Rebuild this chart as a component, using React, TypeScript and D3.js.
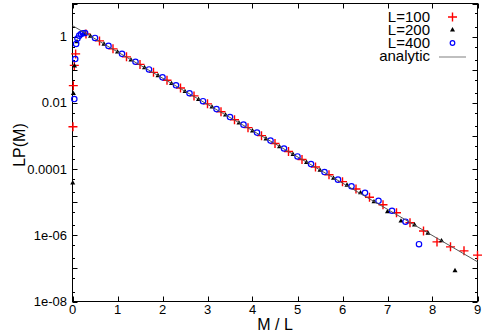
import React from "react";
import * as d3 from "d3";

// L=100 (red +)
const l100X = [0.01, 0.018, 0.04, 0.07, 0.3, 0.6, 0.9, 1.2, 1.5, 1.8, 2.1, 2.4, 2.7, 3.0, 3.3, 3.6, 3.9, 4.2, 4.5, 4.8, 5.1, 5.4, 5.7, 6.0, 6.3, 6.6, 6.9, 7.2, 7.5, 7.8, 8.1, 8.4, 8.7, 9.0];
const l100Y = [0.0019, 0.033, 0.135, 0.3, 1.2, 0.741, 0.427, 0.245, 0.145, 0.0832, 0.0479, 0.0282, 0.0162, 0.00933, 0.00537, 0.00309, 0.00178, 0.00102, 5.89e-4, 3.39e-4, 1.95e-4, 1.15e-4, 6.76e-5, 4.17e-5, 2.51e-5, 1.41e-5, 8.32e-6, 4.79e-6, 2.4e-6, 1.35e-6, 6.3e-7, 4.47e-7, 3.39e-7, 2.51e-7];

// L=200 (black triangles)
const l200X = [0.005, 0.02, 0.045, 0.1, 0.25, 0.4, 0.7, 1.0, 1.3, 1.6, 1.9, 2.2, 2.5, 2.8, 3.1, 3.4, 3.7, 4.0, 4.3, 4.6, 4.9, 5.2, 5.5, 5.8, 6.1, 6.4, 6.7, 7.0, 7.3, 7.6, 7.9, 8.2, 8.5];
const l200Y = [3.8e-5, 0.019, 0.13, 0.7, 1.15, 1.02, 0.589, 0.339, 0.195, 0.115, 0.0661, 0.038, 0.0219, 0.0126, 0.00741, 0.00427, 0.00245, 0.00141, 8.13e-4, 4.68e-4, 2.75e-4, 1.58e-4, 9.12e-5, 5.25e-5, 3.24e-5, 1.91e-5, 1.02e-5, 5.13e-6, 2.69e-6, 2.04e-6, 1.15e-6, 6.76e-7, 8.5e-8];

// L=400 (blue circles)
const l400X = [0.04, 0.06, 0.08, 0.11, 0.15, 0.19, 0.23, 0.28, 0.5, 0.8, 1.1, 1.4, 1.7, 2.0, 2.3, 2.6, 2.9, 3.2, 3.5, 3.8, 4.1, 4.4, 4.7, 5.0, 5.3, 5.6, 5.9, 6.2, 6.5, 6.8, 7.1, 7.4, 7.7];
const l400Y = [0.013, 0.21, 0.6, 0.87, 1.07, 1.2, 1.26, 1.28, 0.912, 0.525, 0.302, 0.174, 0.102, 0.0589, 0.0339, 0.0195, 0.0112, 0.00646, 0.00372, 0.00219, 0.00126, 7.24e-4, 4.17e-4, 2.4e-4, 1.41e-4, 8.13e-5, 4.79e-5, 3.02e-5, 1.91e-5, 1.1e-5, 5.5e-6, 2.57e-6, 5.37e-7];

// analytic line
const analyticX = [0, 9];
const analyticY = [2.14, 1.58e-7];

const xTicks = [0, 1, 2, 3, 4, 5, 6, 7, 8, 9];
const yLabelTicks = [1, 0.01, 0.0001, 1e-6, 1e-8];
const yLabelText = ["1", "0.01", "0.0001", "1e-06", "1e-08"];
const legendNames = ["L=100", "L=200", "L=400", "analytic"];

const W = 498;
const H = 335;
const left = 72.5;
const right = 477.5;
const top = 3.5;
const bottom = 301.5;

const App = () => {
  const x = d3.scaleLinear().domain([0, 9]).range([left, right]);
  const y = d3.scaleLog().domain([1e-8, 10]).range([bottom, top]);

  // minor ticks at 1, 2, 5 of each decade
  const yTicks: { v: number; major: boolean }[] = [];
  for (let k = -8; k <= 1; k++) {
    [1, 2, 5].forEach(m => {
      const v = m * Math.pow(10, k);
      if (v <= 10) yTicks.push({ v, major: m === 1 });
    });
  }

  const pts = (xs: number[], ys: number[]) => xs.map((d, i) => [x(d), y(ys[i])]);
  const tri = d3.symbol(d3.symbolTriangle, 11)()!;
  const line = d3.line<number>().x((d, i) => x(analyticX[i])).y(d => y(d));

  const font = "'Liberation Sans', Arial, sans-serif";

  const cross = (cx: number, cy: number, key: any) => (
    <path key={key} d={`M${cx - 4.5},${cy}H${cx + 4.5}M${cx},${cy - 4.5}V${cy + 4.5}`}
      stroke="#ff0000" strokeWidth={1.4} fill="none" />
  );

  const legY = [17, 30, 43, 56];

  return (
    <div style={{ position: "absolute", left: 0, top: 0 }}>
      <svg width={W} height={H} style={{ display: "block", fontFamily: font }}>
        <rect width={W} height={H} fill="white" />
        {/* ticks */}
        <g stroke="#000" strokeWidth={1}>
          {xTicks.map(t => (
            <g key={t}>
              <line x1={Math.round(x(t)) + 0.5} x2={Math.round(x(t)) + 0.5} y1={bottom} y2={bottom - 5} />
              <line x1={Math.round(x(t)) + 0.5} x2={Math.round(x(t)) + 0.5} y1={top} y2={top + 5} />
            </g>
          ))}
          {yTicks.map((t, i) => {
            const yy = Math.round(y(t.v)) + 0.5;
            const len = t.major ? 5 : 2.5;
            return (
              <g key={i}>
                <line x1={left} x2={left + len} y1={yy} y2={yy} />
                <line x1={right} x2={right - len} y1={yy} y2={yy} />
              </g>
            );
          })}
        </g>
        <rect x={left} y={top} width={right - left} height={bottom - top} fill="none" stroke="#000" strokeWidth={1} />

        {/* tick labels */}
        <g fontSize={13} fill="#000">
          {xTicks.map(t => (
            <text key={t} x={x(t)} y={314} textAnchor="middle">{t}</text>
          ))}
          {yLabelTicks.map((t, i) => (
            <text key={i} x={67} y={y(t)} dy="0.35em" textAnchor="end">{yLabelText[i]}</text>
          ))}
        </g>
        <text x={(left + right) / 2} y={330} textAnchor="middle" fontSize={16}>M / L</text>
        <text transform="translate(25,145) rotate(-90)" textAnchor="middle" fontSize={16}>LP(M)</text>

        {/* data */}
        <g>{pts(l100X, l100Y).map((p, i) => cross(p[0], p[1], i))}</g>
        <g fill="#000">
          {pts(l200X, l200Y).map((p, i) => (
            <path key={i} d={tri} transform={`translate(${p[0]},${p[1]})`} />
          ))}
        </g>
        <g fill="none" stroke="#0000ff" strokeWidth={1.2}>
          {pts(l400X, l400Y).map((p, i) => (
            <circle key={i} cx={p[0]} cy={p[1]} r={2.7} />
          ))}
        </g>
        <path d={line(analyticY)!} fill="none" stroke="#555" strokeWidth={1} />

        {/* legend */}
        <g fontSize={15} textAnchor="end">
          {legendNames.map((n, i) => (
            <text key={n} x={430} y={legY[i]} dy="0.35em">{n}</text>
          ))}
        </g>
        {cross(452.5, legY[0], "leg")}
        <path d={tri} transform={`translate(452.5,${legY[1]})`} fill="#000" />
        <circle cx={452.5} cy={legY[2]} r={2.3} fill="none" stroke="#0000ff" strokeWidth={1.2} />
        <line x1={439} x2={466} y1={legY[3] + 1} y2={legY[3] + 1} stroke="#aaa" strokeWidth={1.5} />
      </svg>
    </div>
  );
};

export default App;
